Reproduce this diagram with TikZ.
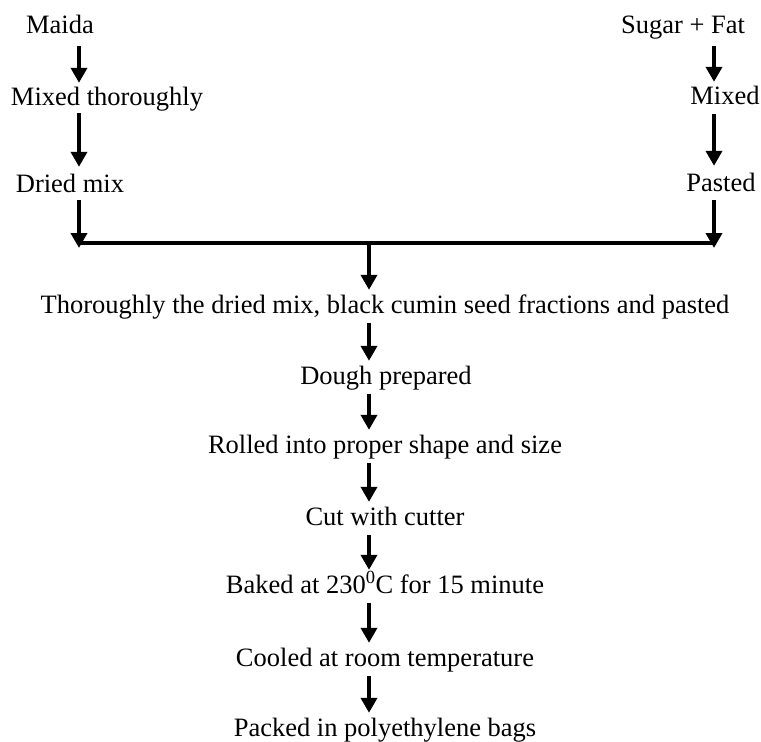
\documentclass[tikz,border=0pt]{standalone}
\usepackage{fontspec}
\setmainfont{Liberation Serif}
\usetikzlibrary{arrows.meta}
\tikzset{
  lbl/.style={inner sep=0pt, anchor=base, text height=18pt, text depth=6pt, font=\fontsize{26.5}{30}\selectfont},
  arr/.style={line width=4.5pt, -{Triangle[length=15pt,width=16pt]}, shorten <=4pt, shorten >=5pt},
  bar/.style={line width=4pt}
}
\begin{document}
\begin{tikzpicture}[x=1pt,y=-1pt]
\useasboundingbox (0,0) rectangle (761,742);
% columns
\coordinate (lx) at (79,0);
\coordinate (rx) at (714,0);
\coordinate (cx) at (369,0);
% left column
\node[lbl] (maida) at (60,33) {Maida};
\node[lbl] (mixt) at (107,105) {Mixed thoroughly};
\node[lbl] (dried) at (70,192) {Dried mix};
% right column
\node[lbl] (sugar) at (683,33) {Sugar + Fat};
\node[lbl] (mixed) at (725,104) {Mixed};
\node[lbl] (pasted) at (721,191) {Pasted};
% centre column
\node[lbl] (thor) at (385,313) {Thoroughly the dried mix, black cumin seed fractions and pasted};
\node[lbl] (dough) at (386,384) {Dough prepared};
\node[lbl] (rolled) at (385,453) {Rolled into proper shape and size};
\node[lbl] (cut) at (385,525) {Cut with cutter};
\node[lbl] (baked) at (385,593) {Baked at 230\textsuperscript{0}C for 15 minute};
\node[lbl] (cooled) at (385,666) {Cooled at room temperature};
\node[lbl] (packed) at (385,736) {Packed in polyethylene bags};
% junction
\coordinate (jl) at (79,243);
\coordinate (jr) at (714,243);
\coordinate (jc) at (369,243);
% left arrows
\draw[arr, shorten <=7pt, shorten >=4pt] (maida.south -| lx) -- (mixt.north -| lx);
\draw[arr, shorten <=2pt, shorten >=7pt] (mixt.south -| lx) -- (dried.north -| lx);
\draw[arr, shorten <=2pt, shorten >=-5pt] (dried.south -| lx) -- (jl);
% right arrows
\draw[arr, shorten <=7pt, shorten >=4pt] (sugar.south -| rx) -- (mixed.north -| rx);
\draw[arr, shorten <=4pt, shorten >=7pt] (mixed.south -| rx) -- (pasted.north -| rx);
\draw[arr, shorten <=3pt, shorten >=-5pt] (pasted.south -| rx) -- (jr);
% bar
\draw[bar] (jl) -- (jr);
% centre arrows
\draw[arr, shorten <=0pt, shorten >=5pt] (jc) -- (thor.north -| cx);
\draw[arr] (thor.south -| cx) -- (dough.north -| cx);
\draw[arr] (dough.south -| cx) -- (rolled.north -| cx);
\draw[arr] (rolled.south -| cx) -- (cut.north -| cx);
\draw[arr] (cut.south -| cx) -- (baked.north -| cx);
\draw[arr] (baked.south -| cx) -- (cooled.north -| cx);
\draw[arr] (cooled.south -| cx) -- (packed.north -| cx);
\end{tikzpicture}
\end{document}
